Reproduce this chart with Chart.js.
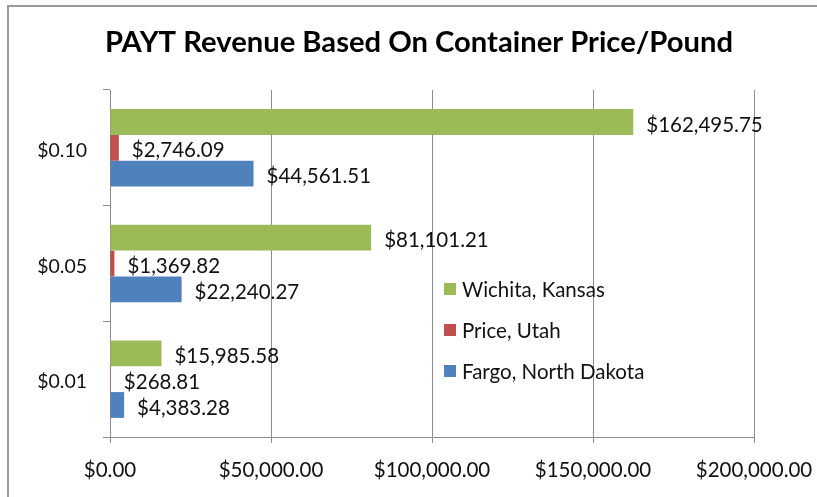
<!DOCTYPE html>
<html>
<head>
<meta charset="utf-8">
<script src="https://cdn.jsdelivr.net/npm/chart.js@4.4.0/dist/chart.umd.min.js"></script>
<style>
  html, body { margin: 0; padding: 0; background: #fff; }
  #wrap { position: relative; width: 817px; height: 497px; overflow: hidden; }
  #frame { position: absolute; left: 7px; top: 5px; width: 900px; height: 600px;
           border-left: 2px solid #9a9a9a; border-top: 2px solid #9a9a9a; }
  canvas { position: absolute; left: 0; top: 0; }
</style>
</head>
<body>
<div id="wrap">
  <div id="frame"></div>
  <canvas id="c" width="817" height="497"></canvas>
</div>
<script>
const titleText = 'PAYT Revenue Based On Container Price/Pound';
const categories = ['$0.10', '$0.05', '$0.01'];
const seriesNames = ['Wichita, Kansas', 'Price, Utah', 'Fargo, North Dakota'];
const wichita = [162495.75, 81101.21, 15985.58];
const price = [2746.09, 1369.82, 268.81];
const fargo = [44561.51, 22240.27, 4383.28];
const xTicks = [0, 50000, 100000, 150000, 200000];
const colors = ['#9BBB59', '#C0504D', '#4F81BD'];

const FONT = 'Lato, "Open Sans", sans-serif';
const TEXT = '#111';
const GRID = '#8c8c8c';

function money(v) {
  return '$' + v.toLocaleString('en-US', { minimumFractionDigits: 2, maximumFractionDigits: 2 });
}

const titleDraw = {
  id: 'titleDraw',
  afterDraw(chart) {
    const ctx = chart.ctx;
    ctx.save();
    ctx.font = 'bold 29.2px ' + FONT;
    ctx.fillStyle = '#000';
    ctx.textAlign = 'center';
    ctx.textBaseline = 'alphabetic';
    ctx.fillText(titleText, 419, 52);
    ctx.restore();
  }
};

const dataLabels = {
  id: 'dataLabels',
  afterDatasetsDraw(chart) {
    const ctx = chart.ctx;
    ctx.save();
    ctx.font = '20.5px ' + FONT;
    ctx.fillStyle = TEXT;
    ctx.textAlign = 'left';
    ctx.textBaseline = 'middle';
    chart.data.datasets.forEach((ds, i) => {
      const meta = chart.getDatasetMeta(i);
      meta.data.forEach((el, j) => {
        ctx.fillText(money(ds.data[j]), el.x + 13, el.y + 3);
      });
    });
    ctx.restore();
  }
};

const innerLegend = {
  id: 'innerLegend',
  afterDraw(chart) {
    const ctx = chart.ctx;
    const a = chart.chartArea;
    const x0 = a.left + 334;
    const y0 = a.top + 199;
    ctx.save();
    ctx.font = '20.5px ' + FONT;
    ctx.textAlign = 'left';
    ctx.textBaseline = 'middle';
    chart.data.datasets.forEach((ds, i) => {
      const y = y0 + i * 41;
      ctx.fillStyle = ds.backgroundColor;
      ctx.fillRect(x0, y - 6, 12, 12);
      ctx.fillStyle = TEXT;
      ctx.fillText(ds.label, x0 + 18, y + 1);
    });
    ctx.restore();
  }
};

new Chart(document.getElementById('c'), {
  type: 'bar',
  data: {
    labels: categories,
    datasets: [
      { label: seriesNames[0], data: wichita, backgroundColor: colors[0] },
      { label: seriesNames[1], data: price, backgroundColor: colors[1] },
      { label: seriesNames[2], data: fargo, backgroundColor: colors[2] }
    ]
  },
  options: {
    indexAxis: 'y',
    responsive: false,
    animation: false,
    events: [],
    layout: { padding: { left: 0, right: 63, top: 90, bottom: 0 } },
    datasets: { bar: { categoryPercentage: 0.67, barPercentage: 1.0, borderWidth: 0 } },
    plugins: {
      legend: { display: false },
      tooltip: { enabled: false },
      title: { display: false }
    },
    scales: {
      x: {
        min: 0, max: 200000,
        afterBuildTicks(scale) { scale.ticks = xTicks.map(v => ({ value: v })); },
        afterFit(scale) {
          scale.height = 60;
          scale.paddingLeft = 0; scale.paddingRight = 0;
          scale.paddingTop = 0; scale.paddingBottom = 0;
        },
        ticks: {
          color: TEXT,
          font: { family: FONT, size: 20.5 },
          padding: 15,
          maxRotation: 0,
          callback: v => money(v)
        },
        grid: { color: GRID, lineWidth: 1, tickLength: 6, drawTicks: true },
        border: { color: GRID, width: 1 }
      },
      y: {
        afterFit(scale) {
          scale.width = 110;
          scale.paddingLeft = 0; scale.paddingRight = 0;
          scale.paddingTop = 0; scale.paddingBottom = 0;
        },
        ticks: {
          color: TEXT,
          font: { family: FONT, size: 19.5 },
          padding: 16,
          labelOffset: 3
        },
        grid: { drawOnChartArea: false, drawTicks: true, tickLength: 7, color: GRID, offset: true },
        border: { color: GRID, width: 1 }
      }
    }
  },
  plugins: [dataLabels, innerLegend, titleDraw]
});
</script>
</body>
</html>
